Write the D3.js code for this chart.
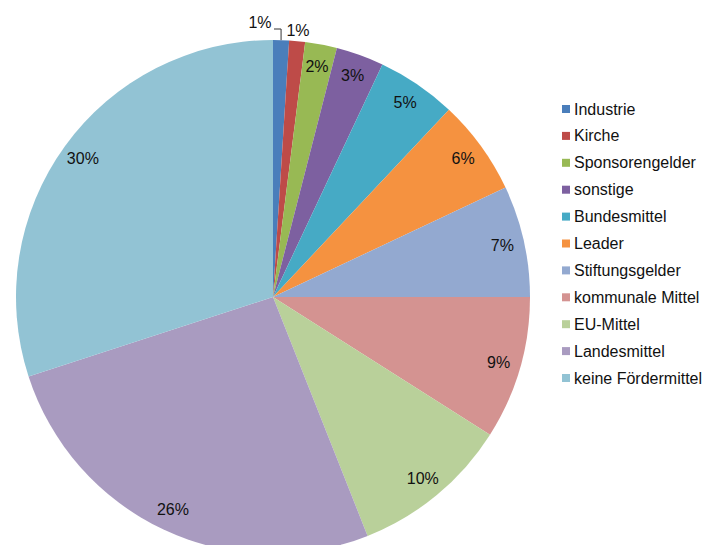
<!DOCTYPE html>
<html><head><meta charset="utf-8">
<script src="https://cdn.jsdelivr.net/npm/d3@7/dist/d3.min.js"></script>
<style>body{margin:0;background:#fff}svg{display:block}text{font-family:"Liberation Sans",Arial,sans-serif}</style>
</head><body>
<svg id="c" width="711" height="545"></svg>
<script>
const categories = ["Industrie","Kirche","Sponsorengelder","sonstige","Bundesmittel","Leader","Stiftungsgelder","kommunale Mittel","EU-Mittel","Landesmittel","keine Fördermittel"];
const values = [1,1,2,3,5,6,7,9,10,26,30];
const labels = ["1%","1%","2%","3%","5%","6%","7%","9%","10%","26%","30%"];
const colors = ["#4a7ebb","#be4b48","#98b954","#7d60a0","#46aac5","#f59240","#93a9d0","#d49391","#b9d09a","#a99bc0","#92c3d4"];

const svg = d3.select("#c");
const cx = 273, cy = 297, R = 257;
const g = svg.append("g").attr("transform", `translate(${cx},${cy})`);
const pie = d3.pie().sort(null).value(d => d)(values);
const arc = d3.arc().innerRadius(0).outerRadius(R);
g.selectAll("path.slice").data(pie).enter().append("path")
  .attr("d", arc).attr("fill", (d,i) => colors[i]);

const labelArc = d3.arc().innerRadius(235).outerRadius(235);
g.selectAll("text.lbl").data(pie).enter().append("text")
  .attr("class","lbl")
  .attr("transform", (d,i) => {
    let [x,y] = labelArc.centroid(d);
    if (i === 0) { x = -13; y = -R - 18; }
    if (i === 1) { x = 25; y = -R - 10; }
    return `translate(${x},${y})`;
  })
  .attr("text-anchor","middle").attr("dominant-baseline","central")
  .attr("font-size", 16).attr("fill","#111").text((d,i) => labels[i]);

// leader line for first slice
const mid0 = (pie[0].startAngle + pie[0].endAngle) / 2;
const lx = Math.sin(mid0) * R, ly = -Math.cos(mid0) * R;
g.append("path").attr("d", `M${1},${-R-11} H${lx} V${ly}`)
  .attr("fill","none").attr("stroke","#333").attr("stroke-width",1);

// legend
const leg = svg.append("g").attr("transform","translate(562,109)");
const rows = leg.selectAll("g").data(categories).enter().append("g")
  .attr("transform",(d,i)=>`translate(0,${i*26.9})`);
rows.append("rect").attr("x",0).attr("y",-4).attr("width",8).attr("height",8)
  .attr("fill",(d,i)=>colors[i]);
rows.append("text").attr("x",12).attr("y",0).attr("dominant-baseline","central")
  .attr("font-size",16).attr("fill","#111").text(d=>d);
</script>
</body></html>
